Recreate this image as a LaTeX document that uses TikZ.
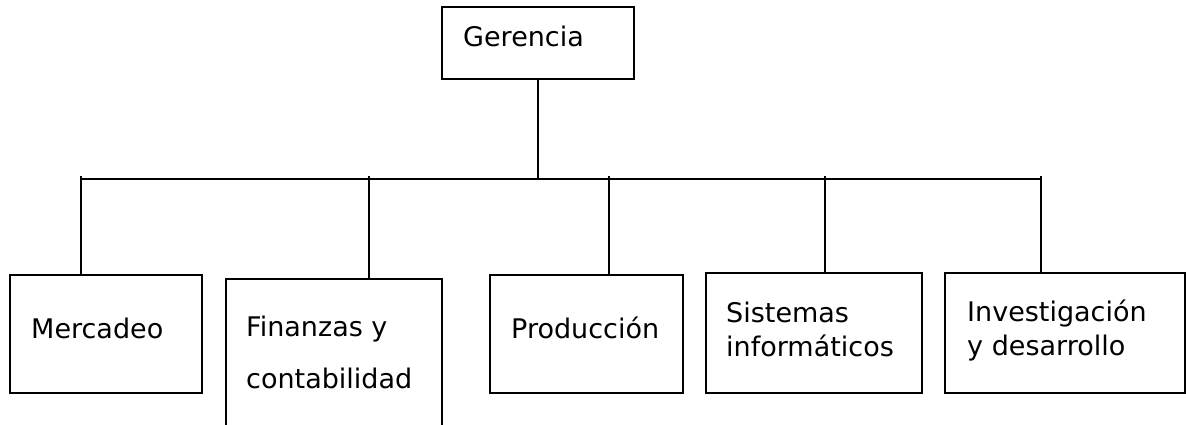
\documentclass[tikz,border=0pt]{standalone}
\usepackage{fontspec}
\setmainfont{DejaVu Sans}
\usetikzlibrary{positioning}

\begin{document}
\begin{tikzpicture}[x=1pt, y=-1pt,
        unidad/.style={draw, rectangle, line width=2pt, inner sep=0pt, anchor=north west},
        rotulo/.style={anchor=base west, inner sep=0pt, align=left, font=\fontsize{27}{34}\selectfont},
        enlace/.style={line width=2pt}]
        \useasboundingbox (0,0) rectangle (1186,424);
        % cajas
        \node[unidad, minimum width=192pt, minimum height=72pt] (ger) at (441,6) {};
        \node[unidad, minimum width=192pt, minimum height=118pt] (merc) at (9,274) {};
        \node[unidad, minimum width=216pt, minimum height=180pt] (fin) at (225,278) {};
        \node[unidad, minimum width=193pt, minimum height=118pt] (prod) at (489,274) {};
        \node[unidad, minimum width=216pt, minimum height=120pt] (sis) at (705,272) {};
        \node[unidad, minimum width=240pt, minimum height=120pt] (inv) at (944,272) {};
        % textos (base = ultima linea)
        \node[rotulo] (gerT) at ([shift={(22,40)}] ger.north west) {Gerencia};
        \node[rotulo] (mercT) at ([shift={(22,64)}] merc.north west) {Mercadeo};
        \node[rotulo, font=\fontsize{27}{52}\selectfont] (finT) at ([shift={(21,110)}] fin.north west) {Finanzas y\\contabilidad};
        \node[rotulo] (prodT) at ([shift={(22,64)}] prod.north west) {Producción};
        \node[rotulo] (sisT) at ([shift={(21,84)}] sis.north west) {Sistemas\\informáticos};
        \node[rotulo] (invT) at ([shift={(23,83)}] inv.north west) {Investigación\\y desarrollo};
        % lineas
        \coordinate (bus) at (0,179);
        \coordinate (d1) at (81,176);
        \coordinate (d2) at (369,176);
        \coordinate (d3) at (609,176);
        \coordinate (d4) at (825,176);
        \coordinate (d5) at (1041,176);
        \draw[enlace] (ger.south) -- (ger.south |- bus);
        \draw[enlace] (d1 |- bus) -- (d5 |- bus);
        \foreach \d/\b in {d1/merc, d2/fin, d3/prod, d4/sis, d5/inv}
            \draw[enlace] (\d) -- (\d |- \b.north);
    \end{tikzpicture}
\end{document}
